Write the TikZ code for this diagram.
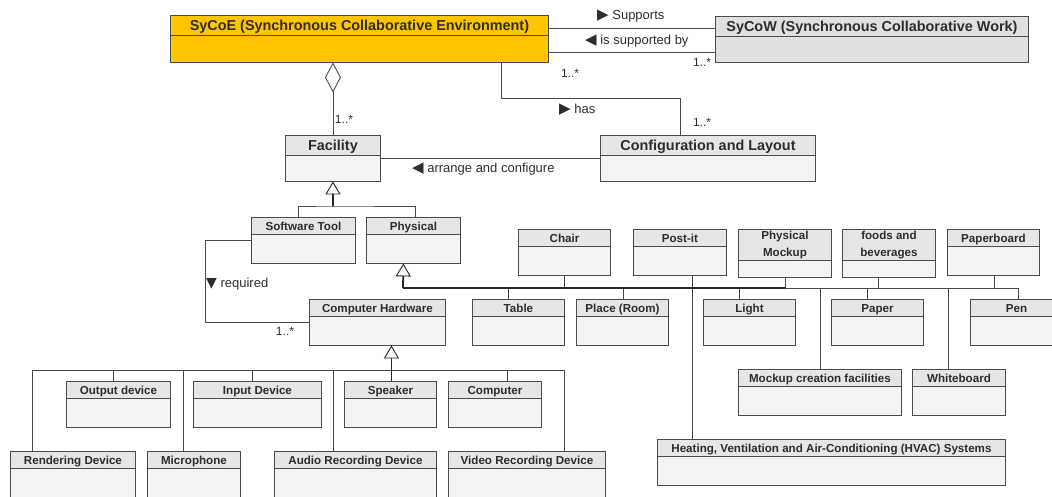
\documentclass[tikz,border=0pt]{standalone}
\usepackage{fontspec}
\setmainfont{Liberation Sans}
\newfontfamily\symfont{DejaVu Sans}
\usetikzlibrary{shapes.multipart, arrows.meta}
\definecolor{syorange}{RGB}{255,198,0}
\definecolor{hdgray}{RGB}{230,230,230}
\definecolor{bdgray}{RGB}{244,244,244}
\definecolor{cwgray}{RGB}{224,224,224}
\definecolor{lngray}{RGB}{75,75,75}
\definecolor{txgray}{RGB}{45,45,45}
\newcommand{\rtri}{{\symfont\fontsize{15}{15}\selectfont ▶}}
\newcommand{\ltri}{{\symfont\fontsize{15}{15}\selectfont ◀}}
\newcommand{\dtri}{{\symfont\fontsize{14}{14}\selectfont ▼}}
% empty lower compartment of a class box
\newcommand{\cbody}[1][23pt]{\nodepart{two}\rule{0pt}{#1}}

\tikzset{
  umlclass/.style={rectangle split, rectangle split parts=2, draw=lngray, line width=0.9pt,
    anchor=north west, align=center, inner xsep=2pt, inner ysep=1pt,
    font=\fontsize{11.6}{14}\selectfont\bfseries, text=txgray,
    rectangle split part fill={hdgray,bdgray},
    execute at begin node={\rule[-.24em]{0pt}{1.2em}}},
  bigclass/.style={umlclass, font=\fontsize{14.4}{17}\selectfont\bfseries},
  assoc/.style={draw=lngray, line width=0.9pt},
  gen/.style={draw=lngray, line width=0.9pt},
  genstem/.style={draw=black!85, line width=1.8pt},
  genarrow/.style={-{Triangle[open, length=13pt, width=15pt, line width=0.9pt]}},
  lbl/.style={font=\fontsize{13}{15}\selectfont, text=txgray, inner sep=0pt, anchor=west},
  mult/.style={font=\fontsize{12}{14}\selectfont, text=txgray, inner sep=0pt},
}

\begin{document}
\begin{tikzpicture}[x=1pt, y=-1pt]
  \useasboundingbox (0,0) rectangle (1052,496);
  \clip (0,0) rectangle (1052,496);

  % top level
  \node[bigclass, minimum width=378pt, rectangle split part fill={syorange,syorange}] (sycoe) at (170,15) {SyCoE (Synchronous Collaborative Environment)\cbody[20pt]};
  \node[bigclass, minimum width=313pt, rectangle split part fill={cwgray,cwgray}] (sycow) at (715,16) {SyCoW (Synchronous Collaborative Work)\cbody[19pt]};
  \node[bigclass, minimum width=95pt] (facility) at (285,135) {Facility\cbody[19pt]};
  \node[bigclass, minimum width=215pt] (config) at (600,135) {Configuration and Layout\cbody[19pt]};
  \node[umlclass, minimum width=104pt] (software) at (251,217) {Software Tool\cbody};
  \node[umlclass, minimum width=94pt] (physical) at (366,217) {Physical\cbody};
  \node[umlclass, minimum width=136pt] (hardware) at (309,299) {Computer Hardware\cbody};

  % computer hardware
  \node[umlclass, minimum width=104pt] (output) at (66,381) {Output device\cbody};
  \node[umlclass, minimum width=128pt] (input) at (193,381) {Input Device\cbody};
  \node[umlclass, minimum width=92pt] (speaker) at (344,381) {Speaker\cbody};
  \node[umlclass, minimum width=93pt] (computer) at (448,381) {Computer\cbody};
  \node[umlclass, minimum width=125pt] (rendering) at (10,451) {Rendering Device\cbody};
  \node[umlclass, minimum width=93pt] (microphone) at (147,451) {Microphone\cbody};
  \node[umlclass, minimum width=162pt] (audio) at (274,451) {Audio Recording Device\cbody};
  \node[umlclass, minimum width=157pt] (video) at (448,451) {Video Recording Device\cbody};

  % physical
  \node[umlclass, minimum width=92pt] (chair) at (518,229) {Chair\cbody};
  \node[umlclass, minimum width=93pt] (postit) at (633,229) {Post-it\cbody};
  \node[umlclass, minimum width=93pt] (mockup) at (738,229) {Physical\\[3pt]Mockup\cbody[7pt]};
  \node[umlclass, minimum width=93pt] (foods) at (842,229) {foods and\\[3pt]beverages\cbody[7pt]};
  \node[umlclass, minimum width=92pt] (paperboard) at (947,229) {Paperboard\cbody};
  \node[umlclass, minimum width=92pt] (table) at (472,299) {Table\cbody};
  \node[umlclass, minimum width=92pt] (place) at (576,299) {Place (Room)\cbody};
  \node[umlclass, minimum width=92pt] (light) at (703,299) {Light\cbody};
  \node[umlclass, minimum width=92pt] (paper) at (831,299) {Paper\cbody};
  \node[umlclass, minimum width=92pt] (pen) at (970,299) {Pen\cbody};
  \node[umlclass, minimum width=163pt] (mockupfac) at (738,369) {Mockup creation facilities\cbody};
  \node[umlclass, minimum width=93pt] (whiteboard) at (912,369) {Whiteboard\cbody};
  \node[umlclass, minimum width=348pt] (hvac) at (657,439) {Heating, Ventilation and Air-Conditioning (HVAC) Systems\cbody};

  % associations
  \draw[assoc] ([yshift=-13pt]sycoe.north east) -- ([yshift=-13pt]sycoe.north east -| sycow.west);
  \draw[assoc] ([yshift=-37pt]sycoe.north east) -- ([yshift=-37pt]sycoe.north east -| sycow.west);
  \node[lbl] (lsupports) at (597,16) {\rtri\ Supports};
  \node[lbl] (lsupported) at (585,41) {\ltri\ is supported by};
  \node[mult] (m1) at (570,73) {1..*};
  \node[mult] (m2) at (702,62) {1..*};

  \draw[assoc] ([xshift=-47pt]sycoe.south east) -- ++(0,36) -| ([xshift=-27.5pt]config.north);
  \node[lbl] (lhas) at (559,110) {\rtri\ has};
  \node[mult] (m3) at (702,122) {1..*};

  \draw[assoc, {Diamond[open, length=30pt, width=16pt, line width=0.9pt]}-] (sycoe.south -| facility.north) -- (facility.north);
  \node[mult] (m4) at (344,119) {1..*};

  \draw[assoc] (facility.east) -- (config.west);
  \node[lbl] (larrange) at (412,169) {\ltri\ arrange and configure};

  \draw[assoc] (software.west) -- ++(-46,0) |- (hardware.west);
  \node[lbl] (lrequired) at (206,284) {\dtri\ required};
  \node[mult] (m5) at (285,331) {1..*};

  % generalizations
  \coordinate (facbus) at (333,206);
  \draw[gen] ([xshift=-5pt]software.north) |- (facbus) -| ([xshift=2pt]physical.north);
  \draw[genstem, genarrow] (facbus) -- (facility.south);

  \coordinate (hwbus) at (391,370);
  \draw[gen] ([xshift=-40.5pt]rendering.north) |- (hwbus);
  \draw[gen] ([xshift=-5pt]output.north) |- (hwbus);
  \draw[gen] ([xshift=-10.5pt]microphone.north) |- (hwbus);
  \draw[gen] ([xshift=-5pt]input.north) |- (hwbus);
  \draw[gen] ([xshift=-22pt]audio.north) |- (hwbus);
  \draw[gen] ([xshift=12.5pt]computer.north) |- (hwbus);
  \draw[gen] ([xshift=37.5pt]video.north) |- (hwbus);
  \draw[genstem, genarrow] ([xshift=1pt]speaker.north) -- ([xshift=14pt]hardware.south);

  \coordinate (physbus) at (403,288);
  \draw[gen] (chair.south) |- (physbus);
  \draw[gen] ([xshift=12.5pt]postit.south) |- (physbus);
  \draw[gen] (mockup.south) |- (physbus);
  \draw[gen] ([xshift=-10.5pt]foods.south) |- (physbus);
  \draw[gen] ([xshift=1pt]paperboard.south) |- (physbus);
  \draw[gen] ([xshift=-10pt]table.north) |- (physbus);
  \draw[gen] ([xshift=1pt]place.north) |- (physbus);
  \draw[gen] ([xshift=-10pt]light.north) |- (physbus);
  \draw[gen] ([xshift=-10pt]paper.north) |- (physbus);
  \draw[gen] ([xshift=2pt]pen.north) |- (physbus);
  \draw[gen] (mockupfac.north) |- (physbus);
  \draw[gen] ([xshift=-10.5pt]whiteboard.north) |- (physbus);
  \draw[gen] ([xshift=-139pt]hvac.north) |- (physbus);
  \draw[genstem] (physbus) -- (physbus -| mockup.south);
  \draw[genstem, genarrow] (physbus) -- ([xshift=-10pt]physical.south);
\end{tikzpicture}
\end{document}
